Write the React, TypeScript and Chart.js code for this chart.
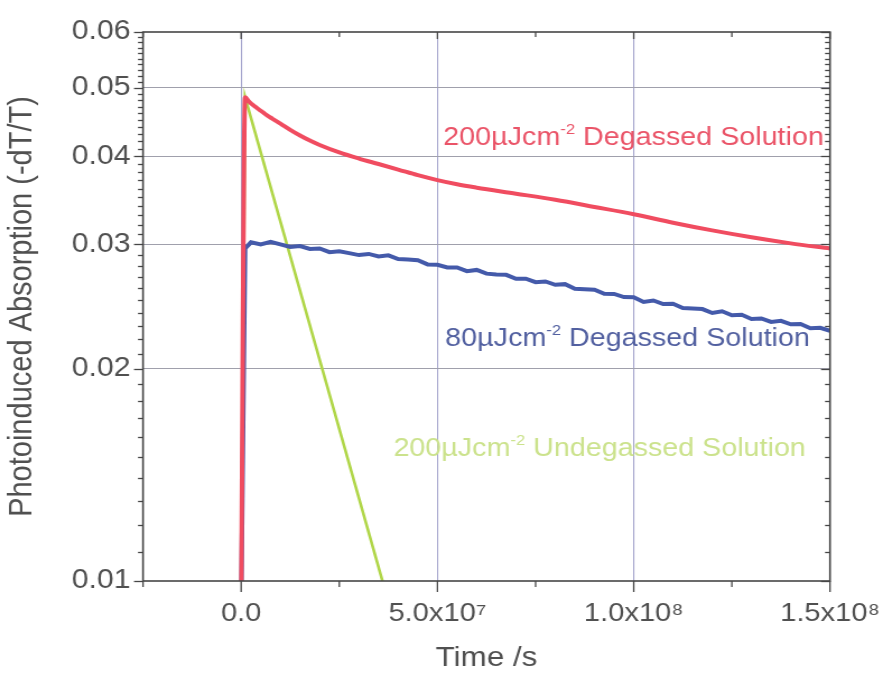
import { useEffect, useRef } from "react";
import { Chart, registerables } from "chart.js";

Chart.register(...registerables);

// ---- data -------------------------------------------------------------
// 200 µJ cm^-2, degassed solution
const degassed200Time = [
  0, 1e6, 2e6, 3.6e6, 5e6, 6.6e6, 8e6, 10e6, 12.5e6, 15e6, 17.5e6, 20e6, 25e6, 30e6, 35e6, 40e6, 45e6,
  50e6, 55e6, 60e6, 70e6, 80e6, 90e6, 100e6, 110e6, 120e6, 130e6, 140e6, 150e6,
];
const degassed200Signal = [
  0.009, 0.0485, 0.0478, 0.047, 0.0464, 0.0457, 0.0452, 0.0445, 0.0436, 0.0428, 0.0421, 0.0415, 0.0405, 0.0397, 0.039, 0.0383, 0.0376,
  0.037, 0.0365, 0.0361, 0.0354, 0.0347, 0.0339, 0.0331, 0.0322, 0.0314, 0.0307, 0.0301, 0.0296,
];

// 80 µJ cm^-2, degassed solution (noisy trace)
const degassed80Time = [
  0, 1e6, 2.5e6, 5e6, 7.5e6, 10e6, 12.5e6, 15e6, 17.5e6, 20e6, 22.5e6, 25e6, 27.5e6, 30e6, 32.5e6, 35e6,
  37.5e6, 40e6, 42.5e6, 45e6, 47.5e6, 50e6, 52.5e6, 55e6, 57.5e6, 60e6, 62.5e6, 65e6, 67.5e6, 70e6,
  72.5e6, 75e6, 77.5e6, 80e6, 82.5e6, 85e6, 87.5e6, 90e6, 92.5e6, 95e6, 97.5e6, 100e6, 102.5e6, 105e6,
  107.5e6, 110e6, 112.5e6, 115e6, 117.5e6, 120e6, 122.5e6, 125e6, 127.5e6, 130e6, 132.5e6, 135e6,
  137.5e6, 140e6, 142.5e6, 145e6, 147.5e6, 150e6,
];
const degassed80Signal = [
  0.009, 0.0296, 0.0302, 0.03, 0.03025, 0.03, 0.02975, 0.02983, 0.02955, 0.0296, 0.02925, 0.02933, 0.02916, 0.02897, 0.02908, 0.02884,
  0.02895, 0.0286, 0.02855, 0.02848, 0.0281, 0.02807, 0.02782, 0.02783, 0.02749, 0.0276, 0.02727, 0.02719, 0.02716, 0.02682,
  0.02682, 0.02652, 0.02658, 0.02629, 0.02635, 0.02596, 0.02592, 0.02588, 0.02553, 0.02552, 0.02526, 0.02525, 0.02486, 0.02498,
  0.02469, 0.02471, 0.02437, 0.02434, 0.02429, 0.02398, 0.02412, 0.0238, 0.02384, 0.02352, 0.02356, 0.02329,
  0.02338, 0.02311, 0.02314, 0.02282, 0.02285, 0.02263,
];

// 200 µJ cm^-2, undegassed solution (single exponential, straight on the log axis)
const undegassed200Time = [0, 1e6, 36e6];
const undegassed200Signal = [0.009, 0.0485, 0.01];

// ---- axes -------------------------------------------------------------
const xMin = -2.5e7;
const xMax = 1.5e8;
const xMajorTicks = [0, 5e7, 1e8, 1.5e8];
const xTickLabels = ["0.0", "5.0x10\u2077", "1.0x10\u2078", "1.5x10\u2078"];
const xMinorTicks = [-2.5e7, 2.5e7, 7.5e7, 1.25e8];

const yMin = 0.01;
const yMax = 0.06;
const yMajorTicks = [0.01, 0.02, 0.03, 0.04, 0.05, 0.06];
const yTickLabels = ["0.01", "0.02", "0.03", "0.04", "0.05", "0.06"];
const yMinorStep = 0.001;

// ---- curve labels (anchored in data coordinates) ----------------------
type Part = { text: string; sup?: boolean };
const curveLabels: { x: number; y: number; color: string; parts: Part[] }[] = [
  { x: 5.15e7, y: 0.04147, color: "rgb(234,84,104)", parts: [{ text: "200µJcm" }, { text: "-2", sup: true }, { text: " Degassed Solution" }] },
  { x: 5.2e7, y: 0.02153, color: "rgb(82,96,160)", parts: [{ text: "80µJcm" }, { text: "-2", sup: true }, { text: " Degassed Solution" }] },
  { x: 3.88e7, y: 0.01504, color: "rgb(203,226,140)", parts: [{ text: "200µJcm" }, { text: "-2", sup: true }, { text: " Undegassed Solution" }] },
];

// ---- geometry ---------------------------------------------------------
const OUT_W = 883;
const OUT_H = 676;
const STRETCH = 1.12;
const CANVAS_W = Math.round(OUT_W / STRETCH);
const S = OUT_W / CANVAS_W;
const PLOT_LEFT = 143 / S;
const PLOT_RIGHT = 830 / S;
const PLOT_TOP = 32;
const PLOT_BOTTOM = 581;
const LABEL_SIZE = 25.6;

const FONT = '"Liberation Sans", Arial, Helvetica, sans-serif';
const AXIS_COLOR = "rgb(70,70,70)";
const TEXT_COLOR = "rgb(80,80,80)";
const GRID_X_COLOR = "rgb(165,165,205)";
const GRID_Y_COLOR = "rgb(160,160,172)";

function drawRich(ctx: CanvasRenderingContext2D, parts: Part[], x: number, y: number, size: number) {
  let cx = x;
  for (const p of parts) {
    const fs = p.sup ? size * 0.58 : size;
    ctx.font = `${fs}px ${FONT}`;
    ctx.fillText(p.text, cx, p.sup ? y - size * 0.42 : y);
    cx += ctx.measureText(p.text).width;
  }
}

const framePlugin = {
  id: "frame",
  afterDatasetsDraw(chart: any) {
    const { ctx, chartArea: a, scales } = chart;
    const xs = scales.x;
    const ys = scales.y;
    ctx.save();
    // curve labels
    ctx.textBaseline = "alphabetic";
    ctx.textAlign = "left";
    for (const lab of curveLabels) {
      ctx.fillStyle = lab.color;
      drawRich(ctx, lab.parts, xs.getPixelForValue(lab.x), ys.getPixelForValue(lab.y), LABEL_SIZE);
    }
    // frame
    ctx.strokeStyle = AXIS_COLOR;
    ctx.lineWidth = 1.6;
    ctx.strokeRect(a.left, a.top, a.right - a.left, a.bottom - a.top);
    const seg = (x1: number, y1: number, x2: number, y2: number) => {
      ctx.beginPath();
      ctx.moveTo(x1, y1);
      ctx.lineTo(x2, y2);
      ctx.stroke();
    };
    ctx.lineWidth = 1.3;
    // y ticks: left outward, right inward
    const n = Math.round((yMax - yMin) / yMinorStep);
    for (let i = 0; i <= n; i++) {
      const v = yMin + i * yMinorStep;
      const py = Math.round(ys.getPixelForValue(v)) + 0.5;
      const major = i % 10 === 0;
      const len = (major ? 9 : 5) / S;
      seg(a.left - len, py, a.left, py);
      seg(a.right - len, py, a.right, py);
    }
    // x ticks: bottom outward, top inward
    for (const v of xMajorTicks) {
      const px = xs.getPixelForValue(v);
      seg(px, a.bottom, px, a.bottom + 11);
      seg(px, a.top, px, a.top + 7);
    }
    for (const v of xMinorTicks) {
      const px = xs.getPixelForValue(v);
      seg(px, a.bottom, px, a.bottom + 6);
      seg(px, a.top, px, a.top + 5);
    }
    ctx.restore();
  },
};

function toPoints(xs: number[], ys: number[]) {
  return xs.map((x, i) => ({ x, y: ys[i] }));
}

export default function App() {
  const canvasRef = useRef<HTMLCanvasElement | null>(null);

  useEffect(() => {
    const canvas = canvasRef.current;
    if (!canvas) return;
    const chart = new Chart(canvas, {
      type: "line",
      data: {
        datasets: [
          {
            label: "200µJcm-2 Degassed Solution",
            data: toPoints(degassed200Time, degassed200Signal),
            borderColor: "rgb(240,76,96)",
            borderWidth: 4,
            cubicInterpolationMode: "monotone",
            pointRadius: 0,
          },
          {
            label: "80µJcm-2 Degassed Solution",
            data: toPoints(degassed80Time, degassed80Signal),
            borderColor: "rgb(68,90,170)",
            borderWidth: 4,
            tension: 0,
            pointRadius: 0,
          },
          {
            label: "200µJcm-2 Undegassed Solution",
            data: toPoints(undegassed200Time, undegassed200Signal),
            borderColor: "rgb(176,214,72)",
            borderWidth: 2.6,
            tension: 0,
            pointRadius: 0,
          },
        ],
      },
      options: {
        responsive: false,
        animation: false,
        devicePixelRatio: 1,
        parsing: false,
        layout: { padding: { left: 0, right: CANVAS_W - PLOT_RIGHT, top: PLOT_TOP, bottom: 0 } },
        plugins: { legend: { display: false }, tooltip: { enabled: false } },
        scales: {
          x: {
            type: "linear",
            min: xMin,
            max: xMax,
            afterBuildTicks: (s: any) => {
              s.ticks = xMajorTicks.map((value) => ({ value }));
            },
            afterFit: (s: any) => {
              s.height = OUT_H - PLOT_BOTTOM;
              s.paddingLeft = 0;
              s.paddingRight = 0;
            },
            border: { display: false },
            grid: {
              drawTicks: false,
              lineWidth: 1.1,
              color: (c: any) => (c.tick && c.tick.value > xMin && c.tick.value < xMax ? GRID_X_COLOR : "rgba(0,0,0,0)"),
            },
            ticks: {
              padding: 17,
              autoSkip: false,
              maxRotation: 0,
              color: TEXT_COLOR,
              font: { family: FONT, size: 26 },
              callback: (v: any) => {
                const i = xMajorTicks.indexOf(Number(v));
                return i >= 0 ? xTickLabels[i] : "";
              },
            },
            title: {
              display: true,
              text: "Time /s",
              color: TEXT_COLOR,
              font: { family: FONT, size: 28 },
              padding: { top: 0, bottom: 1 },
            },
          },
          y: {
            type: "logarithmic",
            min: yMin,
            max: yMax,
            afterBuildTicks: (s: any) => {
              s.ticks = yMajorTicks.map((value) => ({ value }));
            },
            afterFit: (s: any) => {
              s.width = PLOT_LEFT;
              s.paddingTop = 0;
              s.paddingBottom = 0;
            },
            border: { display: false },
            grid: {
              drawTicks: false,
              lineWidth: 1.1,
              color: (c: any) => (c.tick && c.tick.value > yMin + 1e-6 && c.tick.value < yMax - 1e-6 ? GRID_Y_COLOR : "rgba(0,0,0,0)"),
            },
            ticks: {
              padding: 11,
              autoSkip: false,
              color: TEXT_COLOR,
              font: { family: FONT, size: 27 },
              callback: (v: any) => {
                const i = yMajorTicks.findIndex((t) => Math.abs(t - Number(v)) < 1e-6);
                return i >= 0 ? yTickLabels[i] : "";
              },
            },
            title: {
              display: true,
              text: "Photoinduced Absorption (-dT/T)",
              color: TEXT_COLOR,
              font: { family: FONT, size: 29 },
              padding: { top: 3, bottom: 0 },
            },
          },
        },
      },
      plugins: [framePlugin],
    } as any);
    return () => chart.destroy();
  }, []);

  return (
    <div style={{ position: "absolute", left: 0, top: 0, width: OUT_W, height: OUT_H, background: "#fff" }}>
      <canvas
        ref={canvasRef}
        width={CANVAS_W}
        height={OUT_H}
        style={{ width: `${OUT_W}px`, height: `${OUT_H}px`, display: "block" }}
      />
    </div>
  );
}
